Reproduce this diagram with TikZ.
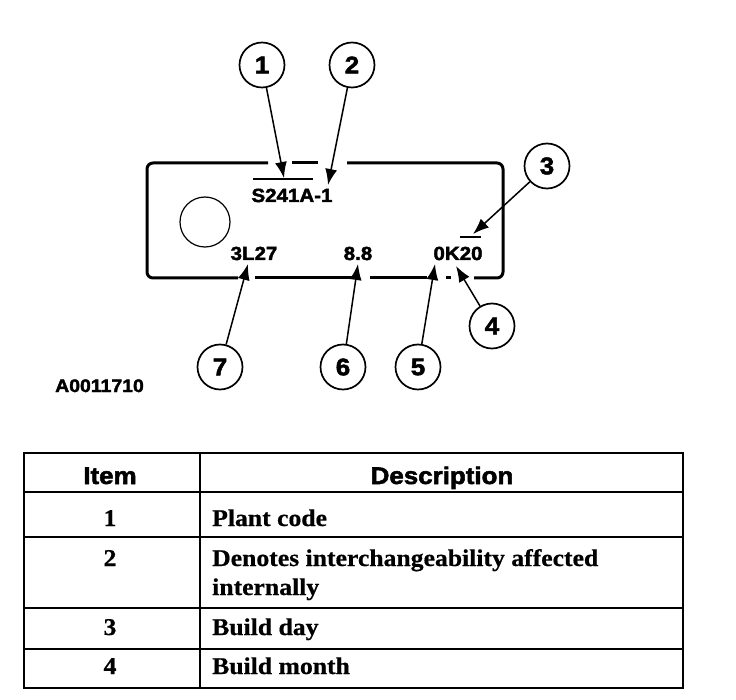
\documentclass[tikz,border=0pt]{standalone}
\usepackage{fontspec}
\setmainfont{Liberation Serif}
\newfontfamily\hvh[FakeStretch=1.08,FakeBold=2.2]{Liberation Sans Bold}
\newfontfamily\tmr[FakeStretch=1.07,FakeBold=0.6]{Liberation Serif Bold}
\usetikzlibrary{arrows.meta}
\begin{document}
\begin{tikzpicture}[x=1pt,y=-1pt,
  num/.style={circle,draw,line width=1.7pt,minimum size=45pt,inner sep=0pt,font=\hvh\fontsize{24}{24}\selectfont},
  lbl/.style={anchor=base,inner sep=0pt,font=\hvh\fontsize{19}{19}\selectfont},
  ptr/.style={line width=1.5pt,-{Latex[length=16pt,width=12pt]}},
  plate/.style={line width=3pt},
  bar/.style={line width=1.6pt},
  hdr/.style={anchor=base,inner sep=0pt,font=\hvh\fontsize{24}{24}\selectfont},
  cellc/.style={anchor=base,inner sep=0pt,font=\tmr\fontsize{24}{24}\selectfont},
  cell/.style={anchor=base west,inner sep=0pt,font=\tmr\fontsize{24}{24}\selectfont},
  rule/.style={line width=1.8pt}
]
\useasboundingbox (0,0) rectangle (736,700);

% plate outline
\draw[plate,rounded corners=6pt] (268,163) -- (147,163) -- (147,278) -- (238,278);
\draw[plate] (292,163) -- (318,163);
\draw[plate,rounded corners=6pt] (347,163) -- (503,163) -- (503,278) -- (474,278);
\draw[plate] (255,278) -- (353,278);
\draw[plate] (370,278) -- (427,278);
\draw[plate] (446,278) -- (451,278);
\draw[line width=1.2pt] (205,222) circle (25);

% plate texts
\node[lbl] (s241) at (292,202) {S241A-1};
\node[lbl] (l27) at (254,260) {3L27};
\node[lbl] (e88) at (358,260) {8.8};
\node[lbl] (k20) at (458,260) {0K20};
\draw[bar] (253,179) -- (313,179);
\draw[bar] (460,237) -- (481,237);

% callouts
\node[num] (c1) at (262,65) {1};
\node[num] (c2) at (352,65) {2};
\node[num] (c3) at (547,166) {3};
\node[num] (c4) at (492,326) {4};
\node[num] (c5) at (418,367) {5};
\node[num] (c6) at (343,367) {6};
\node[num] (c7) at (220,367) {7};

\coordinate (t1) at (284,178);
\coordinate (t2) at (328,185);
\coordinate (t3) at (473,234);
\coordinate (t4) at (456,266);
\coordinate (t5) at (435,264);
\coordinate (t6) at (358,264);
\coordinate (t7) at (248,264);

\draw[ptr] (c1) -- (t1);
\draw[ptr] (c2) -- (t2);
\draw[ptr] (c3) -- (t3);
\draw[ptr] (c4) -- (t4);
\draw[ptr] (c5) -- (t5);
\draw[ptr] (c6) -- (t6);
\draw[ptr] (c7) -- (t7);

\node[anchor=base west,inner sep=0pt,font=\hvh\fontsize{18}{18}\selectfont] (fig) at (55,392) {A0011710};

% table
\draw[rule] (24,453) rectangle (683,688);
\draw[rule] (200,453) -- (200,688);
\draw[rule] (24,492) -- (683,492);
\draw[rule] (24,537) -- (683,537);
\draw[rule] (24,608) -- (683,608);
\draw[rule] (24,649) -- (683,649);

\node[hdr] (hitem) at (110,484) {Item};
\node[hdr] (hdesc) at (442,484) {Description};

\node[cellc] (n1) at (110,526) {1};
\node[cell] (d1) at (212,526) {Plant code};
\node[cellc] (n2) at (110,566) {2};
\node[cell] (d2a) at (212,566) {Denotes interchangeability affected};
\node[cell] (d2b) at (212,595) {internally};
\node[cellc] (n3) at (110,635) {3};
\node[cell] (d3) at (212,635) {Build day};
\node[cellc] (n4) at (110,674) {4};
\node[cell] (d4) at (212,674) {Build month};
\end{tikzpicture}
\end{document}
